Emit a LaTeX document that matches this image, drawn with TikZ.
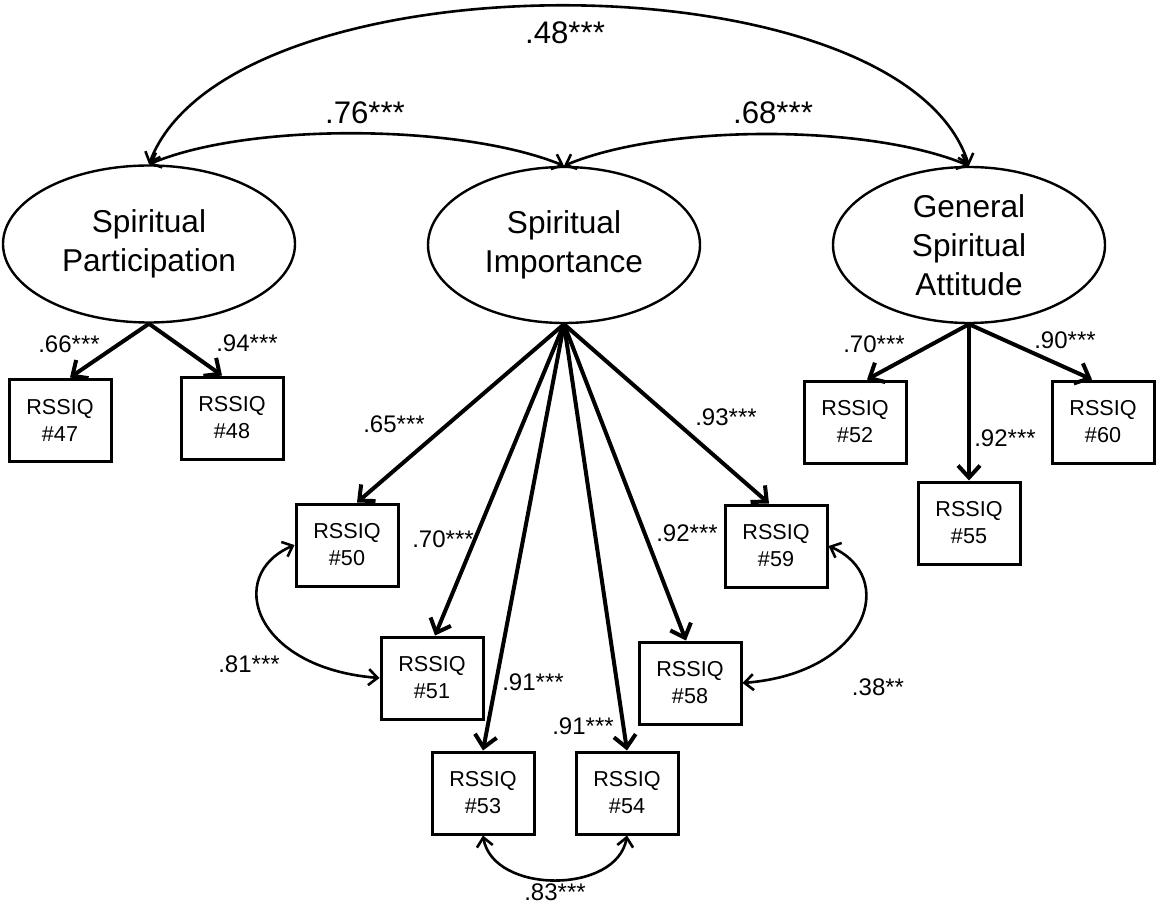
\documentclass[tikz,border=0pt]{standalone}
\usepackage{fontspec}
\setmainfont{Liberation Sans}
\usetikzlibrary{arrows.meta,shapes.geometric}

\begin{document}
\begin{tikzpicture}[x=0.5pt,y=-0.5pt,
  latent/.style={draw,ellipse,line width=1.2pt,inner sep=0pt,align=center,
    minimum width=136pt,minimum height=78pt,font=\fontsize{15.8}{19.5}\selectfont},
  item/.style={draw,line width=1.5pt,inner sep=0pt,align=center,
    minimum width=51pt,minimum height=41pt,font=\fontsize{10.8}{13.5}\selectfont},
  coef/.style={inner sep=0pt,font=\fontsize{12}{14}\selectfont},
  bigcoef/.style={inner sep=0pt,font=\fontsize{15.6}{18}\selectfont},
  load/.style={line width=2pt,-{Straight Barb[length=6pt,width=11pt]}},
  cov/.style={line width=1.3pt,{Straight Barb[length=4.5pt,width=8pt]}-{Straight Barb[length=4.5pt,width=8pt]}}]
  \useasboundingbox (0,0) rectangle (1160,919);

  % factors
  \node[latent,minimum width=146pt,minimum height=78.5pt] (part) at (149,244) {Spiritual\\Participation};
  \node[latent] (imp) at (564,245) {Spiritual\\Importance};
  \node[latent] (att) at (969,245) {General\\Spiritual\\Attitude};

  % items
  \node[item] (q47) at (60,420) {RSSIQ\\\#47};
  \node[item] (q48) at (232,418) {RSSIQ\\\#48};
  \node[item] (q50) at (347,545) {RSSIQ\\\#50};
  \node[item] (q51) at (432,678) {RSSIQ\\\#51};
  \node[item] (q53) at (483,793) {RSSIQ\\\#53};
  \node[item] (q54) at (627,793) {RSSIQ\\\#54};
  \node[item] (q58) at (690,683) {RSSIQ\\\#58};
  \node[item] (q59) at (776,546) {RSSIQ\\\#59};
  \node[item] (q52) at (855,422) {RSSIQ\\\#52};
  \node[item] (q55) at (969,523) {RSSIQ\\\#55};
  \node[item] (q60) at (1103,422) {RSSIQ\\\#60};

  % loadings
  \draw[load] (part.south) -- ([xshift=5pt]q47.north);
  \draw[load] (part.south) -- ([xshift=-5pt]q48.north);
  \draw[load] (imp.south) -- ([xshift=5pt]q50.north);
  \draw[load] (imp.south) -- ([xshift=1.5pt]q51.north);
  \draw[load] (imp.south) -- (q53.north);
  \draw[load] (imp.south) -- (q54.north);
  \draw[load] (imp.south) -- ([xshift=-2pt]q58.north);
  \draw[load] (imp.south) -- ([xshift=-3.5pt]q59.north);
  \draw[load] (att.south) -- ([xshift=6pt]q52.north);
  \draw[load] (att.south) -- (q55.north);
  \draw[load] (att.south) -- ([xshift=-5.5pt]q60.north);

  \node[coef] (c47) at (69,344) {.66***};
  \node[coef] (c48) at (247,343) {.94***};
  \node[coef] (c50) at (394,424) {.65***};
  \node[coef] (c51) at (443,539) {.70***};
  \node[coef] (c53) at (533,682) {.91***};
  \node[coef] (c54) at (583,726) {.91***};
  \node[coef] (c58) at (687,533) {.92***};
  \node[coef] (c59) at (726,417) {.93***};
  \node[coef] (c52) at (874,344) {.70***};
  \node[coef] (c55) at (1005,438) {.92***};
  \node[coef] (c60) at (1065,340) {.90***};

  % covariances
  \draw[cov] (part.north) .. controls +(80,-211) and +(-68,-213) .. (att.north);
  \draw[cov] (part.north) .. controls +(100,-42) and +(-103,-42) .. (imp.north);
  \draw[cov] (imp.north) .. controls +(100,-42) and +(-100,-42) .. (att.north);
  \draw[cov] (q50.west) .. controls +(-70,30) and +(-126,-10) .. (q51.west);
  \draw[cov] (q59.east) .. controls +(70,30) and +(126,-10) .. (q58.east);
  \draw[cov] (q53.south) .. controls +(10,59) and +(-10,59) .. (q54.south);

  \node[bigcoef] (r48) at (565,33) {.48***};
  \node[bigcoef] (r76) at (365,113) {.76***};
  \node[bigcoef] (r68) at (773,113) {.68***};
  \node[coef] (r81) at (249,664) {.81***};
  \node[coef] (r38) at (878,687) {.38**};
  \node[coef] (r83) at (555,892) {.83***};
\end{tikzpicture}
\end{document}
